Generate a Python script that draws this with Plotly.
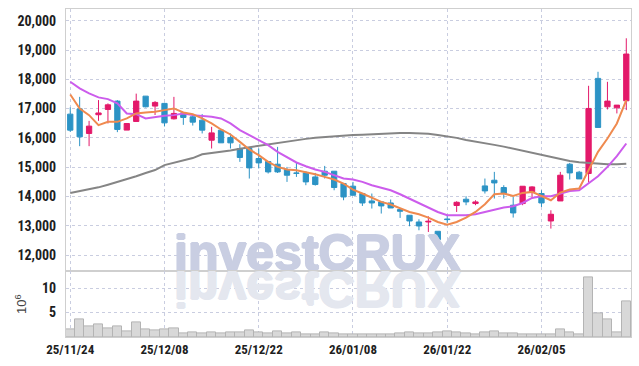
import plotly.graph_objects as go

# ---------------- data ----------------
dates = ["25/11/24", "25/11/25", "25/11/26", "25/11/27", "25/11/28",
         "25/12/01", "25/12/02", "25/12/03", "25/12/04", "25/12/05",
         "25/12/08", "25/12/09", "25/12/10", "25/12/11", "25/12/12",
         "25/12/15", "25/12/16", "25/12/17", "25/12/18", "25/12/19",
         "25/12/22", "25/12/23", "25/12/24", "25/12/26", "25/12/29",
         "25/12/30", "26/01/02", "26/01/05", "26/01/06", "26/01/07",
         "26/01/08", "26/01/09", "26/01/12", "26/01/13", "26/01/14",
         "26/01/15", "26/01/16", "26/01/19", "26/01/20", "26/01/21",
         "26/01/22", "26/01/23", "26/01/26", "26/01/27", "26/01/28",
         "26/01/29", "26/01/30", "26/02/02", "26/02/03", "26/02/04",
         "26/02/05", "26/02/06", "26/02/09", "26/02/10", "26/02/11",
         "26/02/12", "26/02/13", "26/02/19", "26/02/20", "26/02/23"]

open_ = [16810, 16990, 16150, 16790, 16970, 17255, 16265, 16560, 17425, 17085,
         17176, 16650, 16855, 16718, 16605, 15920, 16263, 16013, 15637, 15637,
         15295, 15193, 15100, 14919, 14800, 14803, 14666, 14861, 14861, 14440,
         14350, 14099, 13846, 13812, 13777, 13551, 13357, 13128, 13128, 12810,
         13230, 13690, 13904, 13757, 14359, 14553, 14304, 13700, 13757, 14153,
         14099, 13162, 13846, 15100, 14827, 14783, 18031, 17060, 17025, 17265]
high = [17040, 17400, 16580, 17290, 17176, 17289, 16490, 17510, 17430, 17255,
        17200, 17400, 16855, 16760, 16810, 16376, 16263, 16150, 15784, 15670,
        15637, 15193, 15692, 15008, 15159, 14861, 14803, 15042, 14861, 14440,
        14495, 14099, 14099, 13812, 13894, 13606, 13357, 13220, 13322, 12810,
        13357, 13835, 14007, 13870, 14611, 14838, 14383, 13983, 14348, 14348,
        14212, 13527, 14838, 15145, 14872, 17778, 18256, 17914, 17118, 19400]
low = [16205, 15716, 15716, 16580, 16492, 16195, 16265, 16547, 17040, 16780,
       16390, 16629, 16444, 16420, 16150, 15637, 15830, 15637, 15180, 14610,
       14955, 14783, 14800, 14496, 14666, 14383, 14370, 14612, 14210, 13870,
       14040, 13675, 13586, 13415, 13606, 13266, 12981, 12844, 12786, 12296,
       13094, 13470, 13700, 13700, 14099, 13928, 13928, 13278, 13700, 13950,
       13640, 12902, 13846, 14577, 14598, 14475, 16355, 16970, 16834, 16947]
close = [16263, 16034, 16400, 16850, 17128, 16287, 16490, 17255, 17060, 17210,
         16512, 16834, 16697, 16537, 16263, 16170, 15830, 15829, 15330, 14974,
         15145, 14837, 14837, 14724, 14790, 14496, 14406, 14724, 14304, 13982,
         14040, 13777, 13777, 13675, 13606, 13494, 13162, 12991, 13150, 12526,
         13210, 13800, 13812, 13812, 14188, 14461, 14099, 13436, 14348, 14325,
         13777, 13391, 14724, 14803, 14598, 17004, 16355, 17255, 17118, 18862]

ma5 = [17483, 17000, 16775, 16434, 16546, 16546, 16663, 16834, 16868, 16890,
       16947, 17005, 16868, 16810, 16663, 16492, 16286, 16115, 15864, 15603,
       15408, 15180, 15008, 14919, 14895, 14838, 14759, 14668, 14577, 14440,
       14235, 14099, 13962, 13812, 13723, 13586, 13470, 13391, 13278, 13128,
       13037, 13128, 13278, 13470, 13733, 14075, 14099, 14018, 14121, 14155,
       14007, 13870, 14133, 14235, 14270, 14895, 15521, 15979, 16492, 17289]
ma20 = [17914, 17690, 17518, 17381, 17323, 17176, 16834, 16810, 16663, 16718,
        16752, 16776, 16834, 16776, 16752, 16718, 16663, 16492, 16263, 16092,
        15945, 15750, 15521, 15330, 15159, 15032, 14919, 14838, 14724, 14611,
        14577, 14496, 14383, 14304, 14212, 14075, 13928, 13777, 13640, 13470,
        13357, 13357, 13357, 13391, 13470, 13551, 13620, 13665, 13777, 13948,
        14007, 14007, 14099, 14188, 14212, 14440, 14690, 15008, 15374, 15808]
ma_long = [14120, 14180, 14240, 14310, 14400, 14490, 14580, 14690, 14800, 14900,
           15070, 15150, 15230, 15310, 15440, 15480, 15520, 15570, 15630, 15680,
           15730, 15780, 15830, 15880, 15925, 15965, 16000, 16030, 16058, 16080,
           16095, 16110, 16130, 16145, 16160, 16170, 16170, 16165, 16140, 16100,
           16060, 16000, 15930, 15880, 15820, 15760, 15700, 15630, 15560, 15490,
           15420, 15330, 15260, 15210, 15170, 15140, 15110, 15095, 15100, 15120]

volume_m = [1.53, 3.57, 2.08, 2.55, 1.73, 2.08, 1.12, 2.9, 1.53, 1.33,
            1.53, 1.67, 0.82, 0.85, 0.8, 0.85, 0.82, 0.84, 0.85, 1.33,
            0.85, 0.65, 1.12, 0.78, 0.92, 0.45, 0.45, 0.92, 0.71, 0.6,
            0.48, 0.48, 0.5, 0.5, 0.55, 0.75, 0.95, 0.75, 0.75, 0.95,
            1.16, 0.95, 0.75, 0.48, 0.95, 1.16, 0.75, 0.75, 0.48, 0.48,
            0.48, 0.48, 1.57, 0.95, 0.48, 12.1, 4.9, 3.6, 0.9, 7.2]

tick_labels = ["25/11/24", "25/12/08", "25/12/22", "26/01/08", "26/01/22", "26/02/05"]
price_ticks = [12000, 13000, 14000, 15000, 16000, 17000, 18000, 19000, 20000]
volume_ticks = [5, 10]
watermark = "investCRUX"

# ---------------- style ----------------
RED = "#e3196a"
BLUE = "#2c93c5"
GRID = "#c9cde0"
FRAME = "#cfcfcf"
WM_MAIN = "#c9cee2"
WM_REFL = "#e4e7ef"
YFONT = dict(family="Roboto Condensed, Roboto", size=14, color="#1e1e1e", weight="bold")
XFONT = dict(family="Roboto Condensed, Roboto", size=13, color="#1e1e1e", weight="bold")

x = list(range(len(dates)))
tick_pos = [dates.index(t) for t in tick_labels]


def wm_font(col):
    sh = ", ".join(f"{dx}px {dy}px 0 {col}" for dx, dy in [(1, 0), (-1, 0), (0, 1), (0, -1)])
    return dict(family="Liberation Sans, Arial", size=50, weight="bold", color=col, shadow=sh)


fig = go.Figure()

# watermark (drawn first so it sits under the marks)
fig.add_trace(go.Scatter(x=[26.2], y=[11910], mode="text", text=[watermark],
                         textposition="middle center", cliponaxis=True,
                         textfont=wm_font(WM_MAIN),
                         hoverinfo="skip", showlegend=False, xaxis="x", yaxis="y"))
fig.add_trace(go.Scatter(x=[26.2], y=[13.3], mode="text", text=[watermark],
                         textposition="middle center", cliponaxis=False,
                         textfont=wm_font(WM_REFL),
                         hoverinfo="skip", showlegend=False, xaxis="x2", yaxis="y2"))

fig.add_trace(go.Scatter(x=x, y=ma_long, mode="lines", line=dict(color="#858585", width=2),
                         showlegend=False, xaxis="x", yaxis="y"))
fig.add_trace(go.Scatter(x=x, y=ma20, mode="lines", line=dict(color="#cc5cec", width=2),
                         showlegend=False, xaxis="x", yaxis="y"))
fig.add_trace(go.Scatter(x=x, y=ma5, mode="lines", line=dict(color="#ef8a4f", width=2),
                         showlegend=False, xaxis="x", yaxis="y"))

fig.add_trace(go.Candlestick(x=x, open=open_, high=high, low=low, close=close,
                             increasing=dict(line=dict(color=RED, width=1), fillcolor=RED),
                             decreasing=dict(line=dict(color=BLUE, width=1), fillcolor=BLUE),
                             whiskerwidth=0, showlegend=False, xaxis="x", yaxis="y"))

fig.add_trace(go.Bar(x=x, y=volume_m, width=1.0,
                     marker=dict(color="#d8d8d8", line=dict(color="#b4b4b4", width=1)),
                     showlegend=False, xaxis="x2", yaxis="y2"))

xr = [-0.45, 59.5]
common_x = dict(range=xr, showgrid=True, gridcolor=GRID, griddash="dot", gridwidth=1,
                tickvals=tick_pos, ticktext=tick_labels, zeroline=False, showline=True,
                linecolor=FRAME, mirror=True, fixedrange=True, automargin=False)

fig.update_layout(
    width=639, height=366,
    margin=dict(l=66, r=8, t=9, b=29),
    paper_bgcolor="white", plot_bgcolor="white",
    boxgap=0.2, bargap=0, hovermode=False,
    xaxis=dict(common_x, domain=[0, 1], anchor="y", showticklabels=False,
               rangeslider=dict(visible=False)),
    xaxis2=dict(common_x, domain=[0, 1], anchor="y2", matches="x", showticklabels=True,
                tickfont=XFONT, ticks=""),
    yaxis=dict(domain=[0.2, 1], range=[11440, 20400], tickvals=price_ticks,
               tickformat=",d", tickfont=YFONT, showgrid=True, gridcolor=GRID,
               griddash="dot", zeroline=False, showline=True, linecolor=FRAME,
               mirror=True, ticks="", ticklabelstandoff=6, fixedrange=True, automargin=False),
    yaxis2=dict(domain=[0, 0.2], range=[0, 13.4], tickvals=volume_ticks,
                tickfont=YFONT, showgrid=True, gridcolor=GRID, griddash="dot",
                zeroline=False, showline=True, linecolor=FRAME, mirror=True, ticks="",
                ticklabelstandoff=6, fixedrange=True, automargin=False,
                title=dict(text="10<sup>6</sup>", standoff=12,
                           font=dict(family="Liberation Sans, Arial", size=13, color="#444"))),
)

post = """
document.documentElement.style.margin = '0';
document.body.style.margin = '0';
document.body.style.padding = '0';
var gd = document.getElementById('{plot_id}');
var els = gd.querySelectorAll('g.textpoint text');
els.forEach(function(el){
  var f = el.style.getPropertyValue('fill') || '';
  if (el.textContent === 'investCRUX' && f.indexOf('228, 231, 239') >= 0) {
    var yb = parseFloat(el.getAttribute('y')) - 6.25;
    el.setAttribute('transform', 'translate(0,' + (2*yb) + ') scale(1,-1)');
  }
});
"""

fig.write_html("out.html", post_script=post,
               config={"displayModeBar": False, "staticPlot": False})
